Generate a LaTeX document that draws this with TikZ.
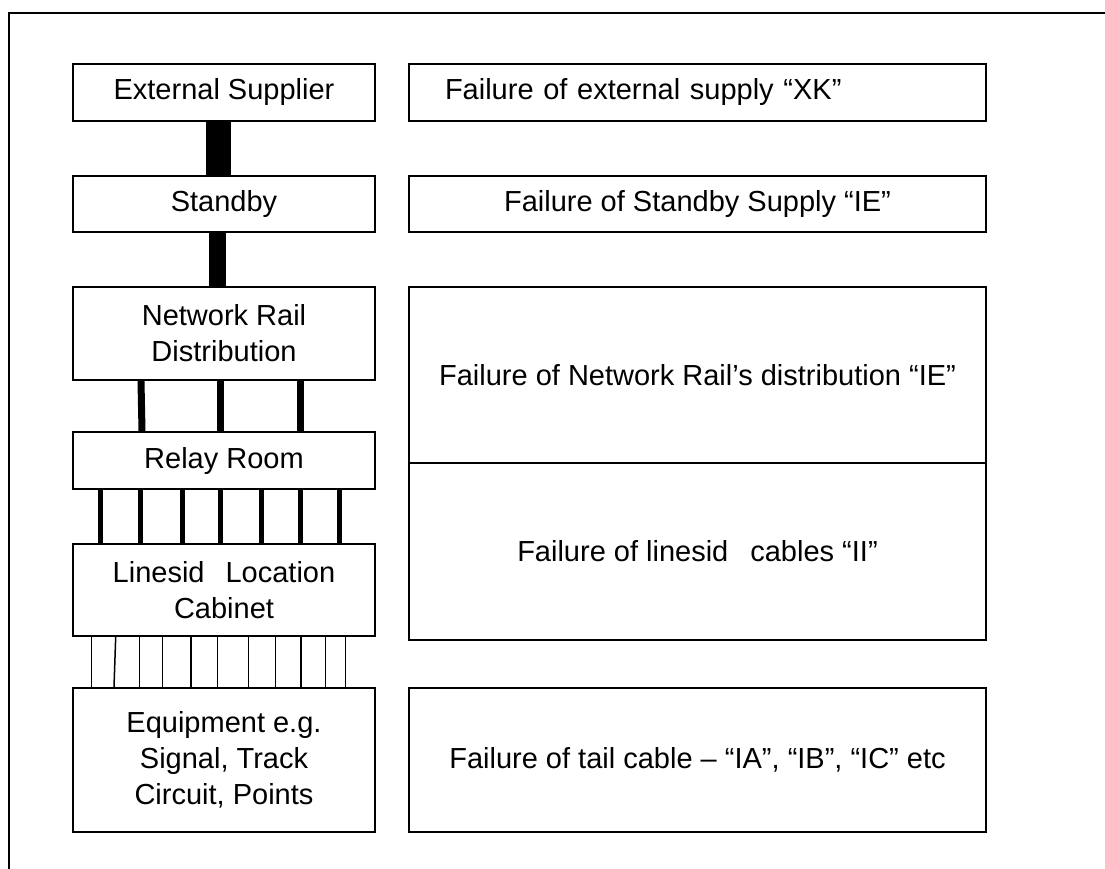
\documentclass[tikz,border=0pt]{standalone}
\usepackage{fontspec}
\setmainfont{Liberation Sans}

\begin{document}
\begin{tikzpicture}[x=1bp, y=-1bp,
    every node/.style={font=\fontsize{29bp}{36bp}\selectfont},
    unit/.style={draw, line width=2bp, minimum width=302bp, inner sep=0pt, align=center},
    fault/.style={draw, line width=2bp, minimum width=577bp, inner sep=0pt, align=center}]
    \useasboundingbox (0,0) rectangle (1105,869);

    % Outer frame (top and left edges only)
    \draw[line width=2bp] (9,869) -- (9,13) -- (1105,13);

    % Supply chain, left column
    \node[unit, minimum height=57bp] (ext) at (224,92.5) {External Supplier};
    \node[unit, minimum height=56bp] (stby) at (224,204) {Standby};
    \node[unit, minimum height=93bp] (dist) at (224,333.5) {Network Rail\\Distribution};
    \node[unit, minimum height=57bp] (relay) at (224,460.5) {Relay Room};
    \node[unit, minimum height=92bp] (cab) at (224,590) {Linesid\hspace{21bp}Location\\Cabinet};
    \node[unit, minimum height=144bp] (equip) at (224,760) {Equipment e.g.\\Signal, Track\\Circuit, Points};

    % Failure codes, right column
    \node[fault, minimum height=57bp, inner xsep=36bp, text width=505bp, align=left] (fext) at (697.5,92.5) {Failure of external supply “XK”};
    \node[fault, minimum height=56bp] (fstby) at (697.5,204) {Failure of Standby Supply “IE”};
    \node[fault, minimum height=176bp] (fdist) at (697.5,375) {Failure of Network Rail’s distribution “IE”};
    \node[fault, minimum height=177bp] (fcab) at (697.5,551.5) {Failure of linesid\hspace{22bp}cables “II”};
    \node[fault, minimum height=144bp] (fequip) at (697.5,760) {Failure of tail cable – “IA”, “IB”, “IC” etc};

    % Feeds between the units
    \draw[line width=25bp] ([xshift=-6bp]ext.south) -- ([xshift=-6bp]stby.north);
    \draw[line width=17bp] ([xshift=-6.5bp]stby.south) -- ([xshift=-6.5bp]dist.north);
    \foreach \dx/\ex in {-83/-82,-4/-4,76/76}
        \draw[line width=7bp] ([xshift=\dx bp]dist.south) -- ([xshift=\ex bp]relay.north);
    \foreach \dx in {-123.3,-84,-42,-4,37,76,115}
        \draw[line width=5bp] ([xshift=\dx bp]relay.south) -- ([xshift=\dx bp]cab.north);
    \foreach \dx/\ex in {-132.7/-132.7,-108.3/-110,-84.3/-84.3,-61.7/-61.7,-33/-33,-6.7/-6.7,24.3/24.3,51.7/51.7,77/77,101.3/101.3,121.7/121.7}
        \draw[line width=1.5bp] ([xshift=\dx bp]cab.south) -- ([xshift=\ex bp]equip.north);
\end{tikzpicture}
\end{document}
